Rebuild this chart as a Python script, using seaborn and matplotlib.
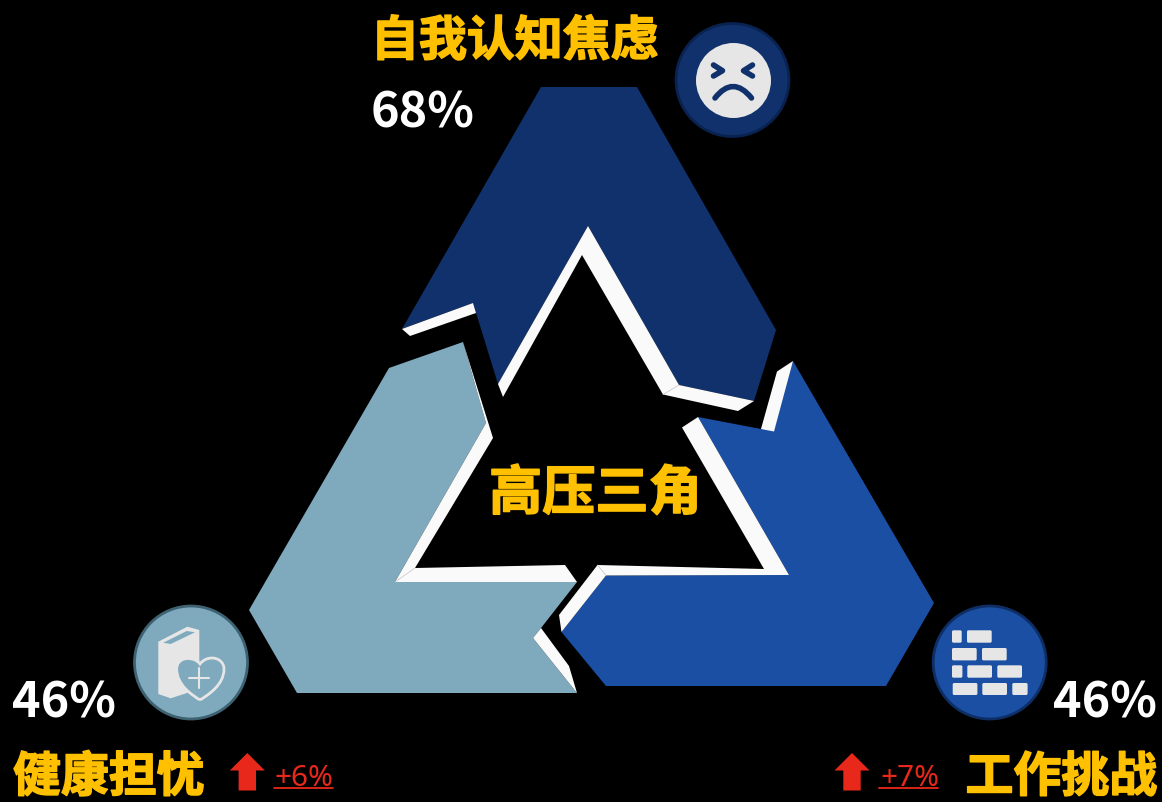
import pandas as pd
import seaborn as sns
import matplotlib
matplotlib.use("Agg")
import matplotlib.pyplot as plt
import matplotlib.patheffects as pe
from matplotlib.patches import FancyBboxPatch, PathPatch
from matplotlib.path import Path

sns.set_theme(style="white")
plt.rcParams['font.family'] = ['Noto Sans CJK SC', 'DejaVu Sans']

# labels and values
categories = ["自我认知焦虑", "健康担忧", "工作挑战"]
percents = ["68%", "46%", "46%"]
changes = ["+6%", "+7%"]
center_label = "高压三角"

badge_x = [732.5, 191, 989.7]
badge_y = [80, 662.5, 662.5]

DARK = "#10316b"
MID = "#1a4fa3"
LIGHT = "#7fa9bd"
WHITE = "#fafafa"
GOLD = "#ffc000"
RED = "#e8281a"
ICON = "#e6e6e6"

# arrow bodies, pixel outline of the diagram
dark_body = [(541, 87), (637, 87), (776, 330), (754, 401), (679, 385), (588, 226),
             (498, 384), (473, 303), (402, 329)]
dark_flap = [(402, 329), (473, 303), (476, 313), (410, 336)]
dark_rim = [(498, 384), (588, 226), (679, 385), (754, 401), (738, 411), (663, 394.5),
            (582, 255), (503, 397)]

mid_body = [(793, 361), (934, 603), (886, 686), (606, 686), (561.5, 632), (606, 575.5),
            (789, 575), (698, 417), (761, 429)]
mid_flap = [(777, 371.5), (793, 361), (774, 431.5), (761, 429)]
mid_rim = [(698, 417), (789, 575), (606, 575.5), (561.5, 632), (559, 615), (597.5, 565),
           (764, 569), (682, 427.5)]

light_body = [(463, 342), (486, 423), (395, 582), (577, 582), (541, 628), (533, 638),
              (577, 693), (297, 693), (249, 610), (389, 368)]
light_flap = [(541, 628), (533, 638), (577, 693), (569, 666)]
light_rim = [(463, 342), (486, 423), (395, 582), (577, 582), (565, 565), (415, 568), (493, 438)]

# faint folds where the white rims turn a corner
fold_lines = [[(679, 385), (663, 394.5)], [(606, 575.5), (597.5, 565)], [(395, 582), (415, 568)]]

fig, ax = plt.subplots(figsize=(11.62, 8.02), dpi=100)
fig.patch.set_facecolor("black")
ax.set_position([0, 0, 1, 1])
ax.set_facecolor("black")

for body, flap, rim, colour in [(dark_body, dark_flap, dark_rim, DARK),
                                (mid_body, mid_flap, mid_rim, MID),
                                (light_body, light_flap, light_rim, LIGHT)]:
    ax.fill(*zip(*body), color=colour, lw=0)
    ax.fill(*zip(*flap), color=WHITE, lw=0)
    ax.fill(*zip(*rim), color=WHITE, lw=0)
for fold in fold_lines:
    ax.plot(*zip(*fold), color="#c4c4c4", lw=0.5)

# badges
badges = pd.DataFrame({"x": badge_x, "y": badge_y, "name": categories})
sns.scatterplot(data=badges, x="x", y="y", hue="name", ax=ax, legend=False,
                palette=dict(zip(categories, [DARK, LIGHT, MID])),
                edgecolor=["#0a2250", "#3e6272", "#0e2f66"], linewidth=2,
                s=(2 * 56.5 * 0.72) ** 2, zorder=3)

# face icon
ax.scatter([732.7], [80], s=(2 * 37.5 * 0.72) ** 2, color=ICON, lw=0, zorder=4)
for eye in ([(713.5, 65), (722.5, 70.7), (713.5, 76)], [(752.5, 65), (743.5, 70.7), (752.5, 76)]):
    ax.plot(*zip(*eye), color=DARK, lw=4, solid_capstyle="round", solid_joinstyle="round", zorder=5)
mouth = Path([(715, 98), (733, 75), (751.5, 98)], [Path.MOVETO, Path.CURVE3, Path.CURVE3])
ax.add_patch(PathPatch(mouth, fc="none", ec=DARK, lw=4, capstyle="round", zorder=5))

# book icon
book = [(158.3, 641.7), (187.3, 626.7), (199.3, 630), (199.3, 670), (190, 692), (170.7, 698.3), (158.3, 694)]
ax.fill(*zip(*book), color=ICON, lw=0, zorder=4)
ax.fill(*zip(*[(163.3, 642.7), (186.7, 631), (195, 632.3), (170.7, 644)]), color=LIGHT, lw=0, zorder=5)
heart_pts = [(200, 700),
             (192, 695), (176.7, 685), (176.7, 669),
             (176.7, 662), (182, 658.5), (188, 658.5),
             (193, 658.5), (197.5, 660.5), (200, 664),
             (202.5, 660.5), (207, 658), (212, 658),
             (218, 658), (224, 662), (224, 669),
             (224, 685), (208, 695), (200, 700)]
heart = Path(heart_pts, [Path.MOVETO] + [Path.CURVE4] * 18)
ax.add_patch(PathPatch(heart, fc=LIGHT, ec=ICON, lw=2, zorder=6))
ax.plot([189.3, 209.3], [678.3, 678.3], color=ICON, lw=1.5, zorder=7)
ax.plot([199.3, 199.3], [668, 688], color=ICON, lw=1.5, zorder=7)

# brick icon
bricks = [(952, 630.3, 9.7, 12.4), (967, 630.3, 24.7, 12.4),
          (952, 648, 24.7, 12.4), (982, 648, 24.7, 12.4),
          (952, 665.3, 10.4, 12.4), (967.3, 665.3, 24.7, 12.4), (997.3, 665.3, 24.7, 12.4),
          (952.7, 683, 24.7, 12), (982.3, 683, 24.7, 12), (1012.3, 683, 15.3, 12)]
for bx, by, bw, bh in bricks:
    ax.add_patch(FancyBboxPatch((bx + 1.5, by + 1.5), bw - 3, bh - 3, boxstyle="round,pad=1.5,rounding_size=1.5",
                                fc=ICON, ec="none", zorder=4))

# red arrows
for tip in [247.3, 852]:
    arrow = [(tip, 753), (tip + 17.5, 770.5), (tip + 8.7, 770.5), (tip + 8.7, 790.5),
             (tip - 8.7, 790.5), (tip - 8.7, 770.5), (tip - 17.5, 770.5)]
    ax.fill(*zip(*arrow), color=RED, lw=0, zorder=4)
ax.plot([274.3, 333.3], [787.5, 787.5], color=RED, lw=1.3)
ax.plot([879.3, 938], [787.5, 787.5], color=RED, lw=1.3)

# text, a thin stroke thickens the CJK bold to the reference weight
heavy = [pe.withStroke(linewidth=1.1, foreground=GOLD)]
bold = dict(color=GOLD, fontweight="bold", va="center", path_effects=heavy)
ax.text(371, 41, categories[0], fontsize=34.5, ha="left", **bold)
ax.text(13, 777, categories[1], fontsize=34.5, ha="left", **bold)
ax.text(1157, 777, categories[2], fontsize=34.5, ha="right", **bold)
ax.text(595.5, 494, center_label, fontsize=38.3, ha="center", **bold)

num = dict(color="white", fontsize=35, fontweight="bold", va="baseline")
ax.text(371, 128, percents[0], ha="left", **num)
ax.text(12, 718, percents[1], ha="left", **num)
ax.text(1157, 718, percents[2], ha="right", **num)

small = dict(color=RED, fontsize=21.5, va="baseline", ha="left", family=["Noto Sans", "DejaVu Sans"])
ax.text(275, 786, changes[0], **small)
ax.text(880, 786, changes[1], **small)

ax.set_xlim(0, 1162)
ax.set_ylim(802, 0)
ax.axis("off")
fig.savefig("out.png", facecolor="black")
